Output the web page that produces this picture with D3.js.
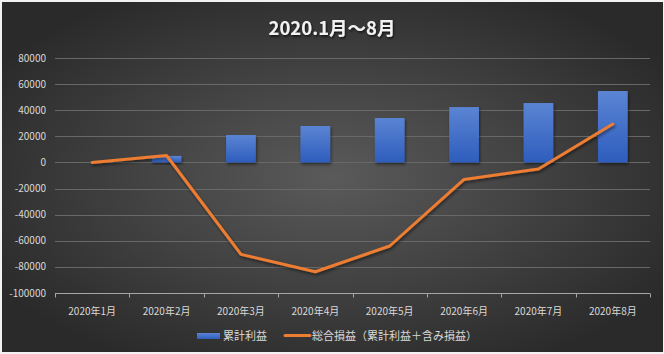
<!DOCTYPE html>
<html><head><meta charset="utf-8">
<script src="https://cdn.jsdelivr.net/npm/d3@7"></script>
<style>
html,body{margin:0;padding:0;background:#f2f2f2;}
svg{display:block;}
</style></head>
<body>
<svg id="chart" width="664" height="354"></svg>
<script>
const categories = ["2020年1月","2020年2月","2020年3月","2020年4月","2020年5月","2020年6月","2020年7月","2020年8月"];
const cumulativeProfit = [0, 5000, 21000, 27900, 34000, 42400, 45500, 54700];
const totalProfitLoss = [0, 5300, -70400, -83700, -64000, -13000, -5000, 29400];
const yTicks = [80000, 60000, 40000, 20000, 0, -20000, -40000, -60000, -80000, -100000];
const title = "2020.1月～8月";
const legendLabels = ["累計利益", "総合損益（累計利益＋含み損益）"];

const W = 664, H = 354;
const svg = d3.select("#chart");
const font = "'Noto Sans CJK JP','Noto Sans',sans-serif";
const defs = svg.append("defs");

const bg = defs.append("radialGradient").attr("id","bg").attr("cx","50%").attr("cy","50%").attr("r","60%");
bg.append("stop").attr("offset","0%").attr("stop-color","#5a5a5a");
bg.append("stop").attr("offset","100%").attr("stop-color","#2a2a2a");

const barG = defs.append("linearGradient").attr("id","barg").attr("x1",0).attr("y1",0).attr("x2",0).attr("y2",1);
barG.append("stop").attr("offset","0%").attr("stop-color","#5b84d3");
barG.append("stop").attr("offset","100%").attr("stop-color","#2e5dbd");

const sh = defs.append("filter").attr("id","shadow").attr("x","-30%").attr("y","-30%").attr("width","160%").attr("height","160%");
sh.append("feDropShadow").attr("dx",1).attr("dy",2).attr("stdDeviation",1.5).attr("flood-color","#000").attr("flood-opacity",0.5);
const tsh = defs.append("filter").attr("id","tshadow").attr("x","-10%").attr("y","-30%").attr("width","120%").attr("height","160%");
tsh.append("feDropShadow").attr("dx",1).attr("dy",1.5).attr("stdDeviation",1).attr("flood-color","#000").attr("flood-opacity",0.7);

// chart background
svg.append("rect").attr("x",2).attr("y",2).attr("width",W-3).attr("height",H-4).attr("fill","url(#bg)");

const plot = {left:55, right:650, top:58, bottom:293};
const x = d3.scaleBand().domain(categories).range([plot.left, plot.right]).paddingInner(0).paddingOuter(0);
const y = d3.scaleLinear().domain([-100000, 80000]).range([plot.bottom, plot.top]);

// gridlines
svg.append("g").selectAll("line").data(yTicks.filter(d => d !== -100000)).join("line")
  .attr("x1", plot.left).attr("x2", plot.right)
  .attr("y1", d => Math.round(y(d)) + 0.5).attr("y2", d => Math.round(y(d)) + 0.5)
  .attr("stroke","#686868").attr("stroke-width",1);

// y labels
svg.append("g").selectAll("text").data(yTicks).join("text")
  .attr("x", 46).attr("y", d => y(d)).attr("dy","0.35em")
  .attr("text-anchor","end").attr("fill","#d9d9d9")
  .attr("font-family", font).attr("font-size", 10)
  .text(d => d);

// x axis
const xAxisG = svg.append("g").attr("transform", `translate(0,${Math.round(y(-100000)) + 0.5})`);
xAxisG.append("line").attr("x1", plot.left).attr("x2", plot.right).attr("stroke","#a6a6a6");
const boundaries = categories.map(c => x(c)).concat([x(categories[categories.length-1]) + x.bandwidth()]);
xAxisG.selectAll("line.tick").data(boundaries).join("line").attr("class","tick")
  .attr("x1", d => Math.round(d)+0.5).attr("x2", d => Math.round(d)+0.5)
  .attr("y1", 0).attr("y2", 4).attr("stroke","#a6a6a6");
xAxisG.selectAll("text").data(categories).join("text")
  .attr("x", d => x(d) + x.bandwidth()/2).attr("y", 21)
  .attr("text-anchor","middle").attr("fill","#d9d9d9")
  .attr("font-family", font).attr("font-size", 10)
  .text(d => d);

// bars
const bw = x.bandwidth() * 0.4;
svg.append("g").selectAll("rect").data(categories.map((c,i) => ({c, v: cumulativeProfit[i]})).filter(d => d.v !== 0)).join("rect")
  .attr("x", d => x(d.c) + x.bandwidth()/2 - bw/2)
  .attr("width", bw)
  .attr("y", d => y(Math.max(0, d.v)))
  .attr("height", d => Math.abs(y(d.v) - y(0)))
  .attr("fill","url(#barg)")
  .attr("filter","url(#shadow)");

// line
const line = d3.line().x((d,i) => x(categories[i]) + x.bandwidth()/2).y(d => y(d));
svg.append("path").datum(totalProfitLoss)
  .attr("d", line).attr("fill","none")
  .attr("stroke","#ed7d31").attr("stroke-width",3)
  .attr("stroke-linejoin","round").attr("stroke-linecap","round")
  .attr("filter","url(#shadow)");

// title
svg.append("text").attr("x", W/2).attr("y", 35).attr("text-anchor","middle")
  .attr("fill","#f2f2f2").attr("font-family", font).attr("font-size", 18.5).attr("font-weight","bold")
  .attr("filter","url(#tshadow)")
  .text(title);

// legend
const lg = svg.append("g");
lg.append("rect").attr("x",197).attr("y",333).attr("width",23).attr("height",6).attr("fill","url(#barg)");
lg.append("text").attr("x",223).attr("y",336).attr("dy","0.35em").attr("fill","#d9d9d9")
  .attr("font-family", font).attr("font-size", 11).text(legendLabels[0]);
lg.append("line").attr("x1",285).attr("x2",310).attr("y1",335.5).attr("y2",335.5)
  .attr("stroke","#ed7d31").attr("stroke-width",3).attr("stroke-linecap","round");
lg.append("text").attr("x",312).attr("y",336).attr("dy","0.35em").attr("fill","#d9d9d9")
  .attr("font-family", font).attr("font-size", 11).text(legendLabels[1]);
</script>
</body></html>
